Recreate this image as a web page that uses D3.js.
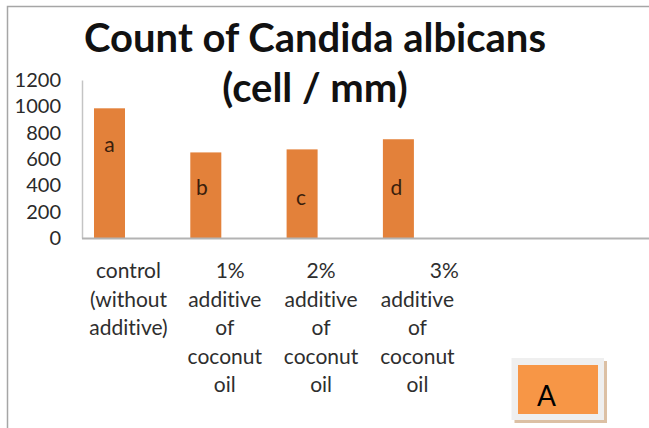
<!DOCTYPE html>
<html>
<head>
<meta charset="utf-8">
<script src="https://cdn.jsdelivr.net/npm/d3@7"></script>
<style>
  html, body { margin: 0; padding: 0; background: #fff; }
  svg { display: block; font-family: Lato, "Open Sans", sans-serif; font-variant-ligatures: none; }
</style>
</head>
<body>
<svg id="chart"></svg>
<script>
const width = 649;
const height = 428;

// data
const categories = ['control', '1%', '2%', '3%'];
const counts = [985, 650, 673, 750];
const barLetters = ['a', 'b', 'c', 'd'];
const categoryLines = [
  ['control', '(without', 'additive)'],
  ['  1%', 'additive', 'of', 'coconut', 'oil'],
  ['2%', 'additive', 'of', 'coconut', 'oil'],
  ['          3%', 'additive', 'of', 'coconut', 'oil']
];
const yTicks = [0, 200, 400, 600, 800, 1000, 1200];
const titleLines = ['Count of Candida albicans', '(cell / mm)'];
const panelLabel = 'A';

const svg = d3.select('#chart')
  .attr('width', width)
  .attr('height', height);

// outer frame (only top and left edges are visible)
svg.append('path')
  .attr('d', 'M7.5,428 V6.5 H649')
  .attr('fill', 'none')
  .attr('stroke', '#a6a6a6')
  .attr('stroke-width', 1.5);

// title
svg.append('g')
  .selectAll('text')
  .data(titleLines)
  .enter()
  .append('text')
  .attr('x', 315)
  .attr('y', (d, i) => 52 + i * 50)
  .attr('text-anchor', 'middle')
  .attr('font-weight', 'bold')
  .attr('font-size', 40)
  .attr('fill', '#111')
  .text((d) => d);

const plotLeft = 82;
const plotRight = 649;

const y = d3.scaleLinear()
  .domain([0, 1200])
  .range([238, 80]);

const x = d3.scaleBand()
  .domain(categories)
  .range([61.35, 446.55])
  .paddingInner(0.678)
  .paddingOuter(0.339);

// y axis
const yAxis = svg.append('g')
  .attr('transform', `translate(${plotLeft}, 0)`)
  .call(d3.axisLeft(y)
    .tickValues(yTicks)
    .tickFormat(d3.format('d'))
    .tickSize(0)
    .tickSizeOuter(0)
    .tickPadding(21));

yAxis.select('.domain')
  .attr('stroke', '#c4c4c4')
  .attr('stroke-width', 1.5);

yAxis.selectAll('text')
  .attr('font-family', 'Lato, sans-serif')
  .attr('font-size', 20)
  .attr('fill', '#2a2a2a');

// bars
svg.append('g')
  .selectAll('rect')
  .data(counts)
  .enter()
  .append('rect')
  .attr('x', (d, i) => x(categories[i]))
  .attr('y', (d) => y(d))
  .attr('width', x.bandwidth())
  .attr('height', (d) => y(0) - y(d))
  .attr('fill', '#e3813a');

// letters inside bars
const letterDx = [0, -4, -1, -2];
const letterDy = [44, 43, 56, 56];
svg.append('g')
  .selectAll('text')
  .data(barLetters)
  .enter()
  .append('text')
  .attr('x', (d, i) => x(categories[i]) + x.bandwidth() / 2 + letterDx[i])
  .attr('y', (d, i) => y(counts[i]) + letterDy[i])
  .attr('text-anchor', 'middle')
  .attr('font-size', 21)
  .attr('fill', '#3a1e0c')
  .text((d) => d);

// x baseline
svg.append('line')
  .attr('x1', plotLeft)
  .attr('x2', plotRight)
  .attr('y1', y(0) + 0.5)
  .attr('y2', y(0) + 0.5)
  .attr('stroke', '#b3b3b3')
  .attr('stroke-width', 2);

// category labels
const labelShift = 19;
const catGroups = svg.append('g')
  .selectAll('text')
  .data(categoryLines)
  .enter()
  .append('text')
  .attr('text-anchor', 'middle')
  .attr('font-size', 21)
  .attr('fill', '#2e2e2e')
  .style('white-space', 'pre');

catGroups.selectAll('tspan')
  .data((d, i) => d.map((t) => ({ t, i })))
  .enter()
  .append('tspan')
  .attr('x', (d) => x(categories[d.i]) + x.bandwidth() / 2 + labelShift)
  .attr('y', (d, j) => 278 + j * 28.5)
  .text((d) => d.t);

// panel label box
const box = svg.append('g');
box.append('rect')
  .attr('x', 514.5).attr('y', 361)
  .attr('width', 92.5).attr('height', 62)
  .attr('fill', '#dcc0a4');
box.append('rect')
  .attr('x', 511.5).attr('y', 358)
  .attr('width', 92.5).attr('height', 62)
  .attr('fill', '#efefef');
box.append('rect')
  .attr('x', 518).attr('y', 365)
  .attr('width', 80).attr('height', 49)
  .attr('fill', '#f79646');
box.append('text')
  .attr('x', 537)
  .attr('y', 406)
  .attr('font-size', 28)
  .attr('fill', '#000')
  .text(panelLabel);
</script>
</body>
</html>
